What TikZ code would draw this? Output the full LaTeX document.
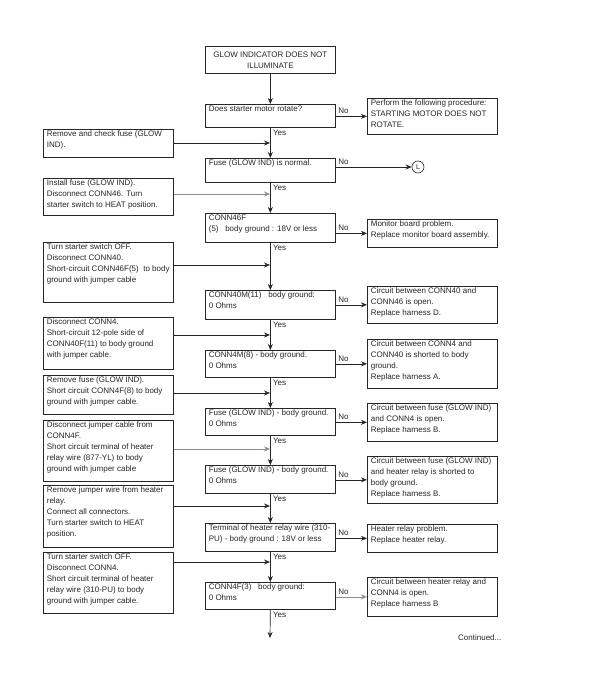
\documentclass[tikz,border=0pt]{standalone}
\usepackage{fontspec}
\setmainfont{Liberation Sans}
\usetikzlibrary{arrows.meta}
\newcommand\bt[3]{\parbox[t][#2pt][t]{#1pt}{\raggedright\rule{0pt}{7pt}#3}}
\tikzset{
  box/.style={draw=black!85, line width=0.7pt, inner xsep=3.5pt, inner ysep=0.5pt,
    anchor=north west, font=\fontsize{8}{11}\selectfont, text=black!85},
  arr/.style={draw=black!85, line width=0.7pt, -{Stealth[length=6pt,width=5pt]}},
  faint/.style={draw=black!45},
  lbl/.style={font=\fontsize{8}{10}\selectfont, inner sep=0pt, text=black!85},
}
\begin{document}
\begin{tikzpicture}[x=1pt,y=-1pt]
\fill[white] (0,0) rectangle (591,675);
\useasboundingbox (0,0) rectangle (591,675);

% main column
\node[box] (T) at (205,46) {\parbox[c][26pt][c]{123pt}{\centering GLOW INDICATOR DOES NOT\\ILLUMINATE}};
\node[box] (Q1) at (205,104) {\bt{123}{22}{Does starter motor rotate?}};
\node[box] (Q2) at (205,158) {\bt{123}{23}{Fuse (GLOW IND) is normal.}};
\node[box] (Q3) at (205,213) {\bt{123}{28}{CONN46F\\(5)\ \ \ body ground : 18V or less}};
\node[box] (Q4) at (205,290) {\bt{123}{28}{CONN40M(11)\ \ \ body ground:\\0 Ohms}};
\node[box] (Q5) at (205,350) {\bt{123}{26}{CONN4M(8) - body ground.\\0 Ohms}};
\node[box] (Q6) at (205,408) {\bt{123}{26}{Fuse (GLOW IND) - body ground.\\0 Ohms}};
\node[box] (Q7) at (205,465) {\bt{123}{27}{Fuse (GLOW IND) - body ground.\\0 Ohms}};
\node[box] (Q8) at (205,523) {\bt{123}{27}{Terminal of heater relay wire (310-\\PU) - body ground : 18V or less}};
\node[box] (Q9) at (205,582) {\bt{123}{26}{CONN4F(3)\ \ \ body ground:\\0 Ohms}};

% right column
\node[box] (R1) at (367,98) {\bt{123}{35}{Perform the following procedure:\\STARTING MOTOR DOES NOT\\ROTATE.}};
\node[circle, draw=black!85, line width=0.6pt, minimum size=12pt, inner sep=0pt, font=\fontsize{7}{8}\selectfont, text=black!85] (C) at (418,167) {L};
\node[box] (R2) at (367,219) {\bt{123}{27}{Monitor board problem.\\Replace monitor board assembly.}};
\node[box] (R3) at (367,286) {\bt{123}{36}{Circuit between CONN40 and\\CONN46 is open.\\Replace harness D.}};
\node[box] (R4) at (367,339) {\bt{123}{48}{Circuit between CONN4 and\\CONN40 is shorted to body\\ground.\\Replace harness A.}};
\node[box] (R5) at (367,403) {\bt{123}{37}{Circuit between fuse (GLOW IND)\\and CONN4 is open.\\Replace harness B.}};
\node[box] (R6) at (367,456) {\bt{123}{46}{Circuit between fuse (GLOW IND)\\and heater relay is shorted to\\body ground.\\Replace harness B.}};
\node[box] (R7) at (367,524) {\bt{123}{27}{Heater relay problem.\\Replace heater relay.}};
\node[box] (R8) at (367,577) {\bt{123}{38}{Circuit between heater relay and\\CONN4 is open.\\Replace harness B}};

% left column
\node[box] (L1) at (43,129) {\bt{123}{27}{Remove and check fuse (GLOW\\IND).}};
\node[box] (L2) at (43,178) {\bt{123}{36}{Install fuse (GLOW IND).\\Disconnect CONN46. Turn\\starter switch to HEAT position.}};
\node[box] (L3) at (43,242) {\bt{123}{59}{Turn starter switch OFF.\\Disconnect CONN40.\\Short-circuit CONN46F(5)\ \ to body\\ground with jumper cable}};
\node[box] (L4) at (43,317) {\bt{123}{51}{Disconnect CONN4.\\Short-circuit 12-pole side of\\CONN40F(11) to body ground\\with jumper cable.}};
\node[box] (L5) at (43,375) {\bt{123}{38}{Remove fuse (GLOW IND).\\Short circuit CONN4F(8) to body\\ground with jumper cable.}};
\node[box] (L6) at (43,420) {\bt{123}{60}{Disconnect jumper cable from\\CONN4F.\\Short circuit terminal of heater\\relay wire (877-YL) to body\\ground with jumper cable}};
\node[box] (L7) at (43,485) {\bt{123}{61}{Remove jumper wire from heater\\relay.\\Connect all connectors.\\Turn starter switch to HEAT\\position.}};
\node[box] (L8) at (43,552) {\bt{123}{60}{Turn starter switch OFF.\\Disconnect CONN4.\\Short circuit terminal of heater\\relay wire (310-PU) to body\\ground with jumper cable.}};

% spine
\coordinate (E) at (270,638);
\draw[arr] (T.south) -- (Q1.north);
\draw[arr] (Q1.south) -- (Q2.north);
\draw[arr] (Q2.south) -- (Q3.north);
\draw[arr] (Q3.south) -- (Q4.north);
\draw[arr] (Q4.south) -- (Q5.north);
\draw[arr] (Q5.south) -- (Q6.north);
\draw[arr] (Q6.south) -- (Q7.north);
\draw[arr] (Q7.south) -- (Q8.north);
\draw[arr] (Q8.south) -- (Q9.north);
\draw[arr] (Q9.south) -- (E);

% Yes labels
\foreach \q in {Q1,Q2,Q3,Q4,Q5,Q6,Q7,Q8,Q9}
  \node[lbl, anchor=north west] (Y\q) at ([xshift=2.5pt,yshift=-2.5pt]\q.south) {Yes};

% junctions from left boxes
\coordinate (J1) at (270,143);
\coordinate (J2) at (270,194);
\coordinate (J3) at (270,265);
\coordinate (J4) at (270,335);
\coordinate (J5) at (270,393);
\coordinate (J6) at (270,449);
\coordinate (J7) at (270,506);
\coordinate (J8) at (270,562);
\draw[arr] (L1.east |- J1) -- (J1);
\draw[arr, faint] (L2.east |- J2) -- (J2);
\draw[arr] (L3.east |- J3) -- (J3);
\draw[arr] (L4.east |- J4) -- (J4);
\draw[arr] (L5.east |- J5) -- (J5);
\draw[arr, faint] (L6.east |- J6) -- (J6);
\draw[arr] (L7.east |- J7) -- (J7);
\draw[arr] (L8.east |- J8) -- (J8);

% No branches
\draw[arr] (Q1.east |- R1.west) -- (R1.west);
\draw[arr] (Q2.east |- C.west) -- (C.west);
\draw[arr] (Q3.east |- R2.west) -- (R2.west);
\draw[arr] (Q4.east |- R3.west) -- (R3.west);
\draw[arr] (Q5.east |- R4.west) -- (R4.west);
\draw[arr] (Q6.east |- R5.west) -- (R5.west);
\draw[arr] (Q7.east |- R6.west) -- (R6.west);
\draw[arr] (Q8.east |- R7.west) -- (R7.west);
\draw[arr, faint] (Q9.east |- R8.west) -- (R8.west);

\node[lbl, anchor=south west] (N1) at ([xshift=2.5pt,yshift=2.5pt]Q1.east |- R1.west) {No};
\node[lbl, anchor=south west] (N2) at ([xshift=2.5pt,yshift=2.5pt]Q2.east |- C.west) {No};
\node[lbl, anchor=south west] (N3) at ([xshift=2.5pt,yshift=2.5pt]Q3.east |- R2.west) {No};
\node[lbl, anchor=south west] (N4) at ([xshift=2.5pt,yshift=2.5pt]Q4.east |- R3.west) {No};
\node[lbl, anchor=south west] (N5) at ([xshift=2.5pt,yshift=2.5pt]Q5.east |- R4.west) {No};
\node[lbl, anchor=south west] (N6) at ([xshift=2.5pt,yshift=2.5pt]Q6.east |- R5.west) {No};
\node[lbl, anchor=south west] (N7) at ([xshift=2.5pt,yshift=2.5pt]Q7.east |- R6.west) {No};
\node[lbl, anchor=south west] (N8) at ([xshift=2.5pt,yshift=2.5pt]Q8.east |- R7.west) {No};
\node[lbl, anchor=south west] (N9) at ([xshift=2.5pt,yshift=2.5pt]Q9.east |- R8.west) {No};

\node[lbl, anchor=base west] (CT) at (458,640.5) {Continued...};
\end{tikzpicture}
\end{document}
